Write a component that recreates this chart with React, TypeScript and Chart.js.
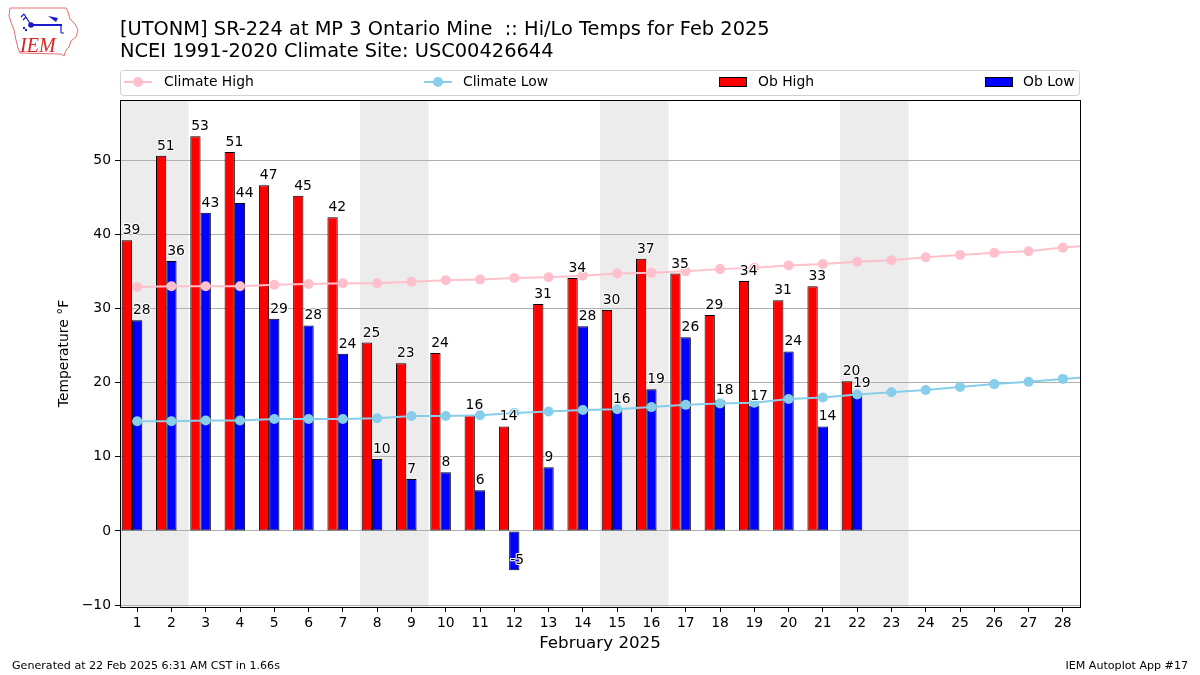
import React, { useEffect, useRef } from 'react';
import { Chart, registerables } from 'chart.js';

Chart.register(...registerables);

// ---- data ----
const days = [1, 2, 3, 4, 5, 6, 7, 8, 9, 10, 11, 12, 13, 14, 15, 16, 17, 18, 19, 20, 21, 22, 23, 24, 25, 26, 27, 28];
const obDays = [1, 2, 3, 4, 5, 6, 7, 8, 9, 10, 11, 12, 13, 14, 15, 16, 17, 18, 19, 20, 21, 22];
const obHigh = [39.2, 50.6, 53.2, 51.1, 46.6, 45.2, 42.3, 25.4, 22.6, 24.0, 15.6, 14.1, 30.6, 34.1, 29.8, 36.7, 34.7, 29.1, 33.7, 31.1, 33.0, 20.2];
const obLow = [28.4, 36.4, 42.9, 44.2, 28.6, 27.7, 23.9, 9.7, 7.0, 7.9, 5.5, -5.3, 8.6, 27.6, 16.4, 19.1, 26.1, 17.6, 16.9, 24.2, 14.1, 18.6];
const climDays = [1, 2, 3, 4, 5, 6, 7, 8, 9, 10, 11, 12, 13, 14, 15, 16, 17, 18, 19, 20, 21, 22, 23, 24, 25, 26, 27, 28, 29];
const climHigh = [32.9, 33.0, 33.0, 33.0, 33.2, 33.3, 33.4, 33.4, 33.6, 33.8, 33.9, 34.1, 34.2, 34.4, 34.7, 34.8, 35.0, 35.3, 35.5, 35.8, 36.0, 36.3, 36.5, 36.9, 37.2, 37.5, 37.7, 38.2, 38.6];
const climLow = [14.8, 14.8, 14.9, 14.9, 15.1, 15.1, 15.1, 15.2, 15.5, 15.5, 15.6, 15.9, 16.1, 16.3, 16.4, 16.7, 17.0, 17.2, 17.3, 17.8, 18.0, 18.4, 18.7, 19.0, 19.4, 19.8, 20.1, 20.5, 20.8];
const weekendStarts = [1, 8, 15, 22];
const yTicks = [-10, 0, 10, 20, 30, 40, 50];

const titleLine1 = '[UTONM] SR-224 at MP 3 Ontario Mine  :: Hi/Lo Temps for Feb 2025';
const titleLine2 = 'NCEI 1991-2020 Climate Site: USC00426644';
const xTitle = 'February 2025';
const yTitle = 'Temperature °F';
const footerLeft = 'Generated at 22 Feb 2025 6:31 AM CST in 1.66s';
const footerRight = 'IEM Autoplot App #17';
const legendLabels = ['Climate High', 'Climate Low', 'Ob High', 'Ob Low'];

const FONT = '"DejaVu Sans", sans-serif';
const PINK = '#ffc0cb';
const SKY = '#87ceeb';

function drawLogo(ctx: CanvasRenderingContext2D) {
  ctx.save();
  // Iowa outline
  ctx.strokeStyle = '#e07070';
  ctx.lineWidth = 1;
  ctx.beginPath();
  ctx.moveTo(10, 8);
  ctx.lineTo(66, 8);
  ctx.lineTo(68, 12);
  ctx.lineTo(70, 19);
  ctx.lineTo(75, 24);
  ctx.lineTo(78, 30);
  ctx.lineTo(76, 37);
  ctx.lineTo(71, 41);
  ctx.lineTo(69, 47);
  ctx.lineTo(66, 50);
  ctx.lineTo(64, 56);
  ctx.lineTo(61, 54);
  ctx.lineTo(20, 53);
  ctx.lineTo(18, 48);
  ctx.lineTo(16, 40);
  ctx.lineTo(14, 30);
  ctx.lineTo(11, 22);
  ctx.lineTo(9, 16);
  ctx.closePath();
  ctx.stroke();
  // station symbol
  ctx.strokeStyle = '#1a1acc';
  ctx.fillStyle = '#1a1acc';
  ctx.lineWidth = 2;
  ctx.beginPath();
  ctx.moveTo(31, 25);
  ctx.lineTo(62, 25);
  ctx.stroke();
  ctx.beginPath();
  ctx.arc(31, 25, 2.8, 0, Math.PI * 2);
  ctx.fill();
  ctx.lineWidth = 1.2;
  ctx.beginPath();
  ctx.moveTo(31, 25);
  ctx.lineTo(24, 14);
  ctx.moveTo(24, 14);
  ctx.lineTo(21, 17);
  ctx.moveTo(26, 17);
  ctx.lineTo(23, 20);
  ctx.moveTo(61, 25);
  ctx.lineTo(61, 33);
  ctx.moveTo(61, 33);
  ctx.lineTo(64, 33);
  ctx.stroke();
  ctx.beginPath();
  ctx.moveTo(48, 16);
  ctx.lineTo(58, 18);
  ctx.lineTo(56, 22);
  ctx.closePath();
  ctx.fill();
  ctx.fillRect(23, 27, 2, 2);
  ctx.fillRect(25, 29, 2, 2);
  // IEM text
  ctx.fillStyle = '#d22';
  ctx.font = 'italic 20px "Liberation Serif", serif';
  ctx.textBaseline = 'alphabetic';
  ctx.textAlign = 'left';
  ctx.fillText('IEM', 20, 52);
  ctx.restore();
}

const decorPlugin = {
  id: 'decor',
  beforeDraw(chart: any) {
    const { ctx, chartArea, scales } = chart;
    ctx.save();
    ctx.fillStyle = '#ffffff';
    ctx.fillRect(0, 0, chart.width, chart.height);
    ctx.fillStyle = '#ececec';
    const xs = scales.x;
    weekendStarts.forEach((d) => {
      const x0 = xs.getPixelForValue(d - 0.5);
      const x1 = xs.getPixelForValue(d + 1.5);
      const l = Math.max(x0, chartArea.left);
      const r = Math.min(x1, chartArea.right);
      ctx.fillRect(l, chartArea.top, r - l, chartArea.bottom - chartArea.top);
    });
    ctx.restore();
  },
  afterDatasetsDraw(chart: any) {
    const { ctx } = chart;
    ctx.save();
    ctx.font = `13.9px ${FONT}`;
    ctx.textAlign = 'left';
    ctx.textBaseline = 'alphabetic';
    ctx.lineJoin = 'round';
    [obHigh, obLow].forEach((vals, di) => {
      const meta = chart.getDatasetMeta(di);
      meta.data.forEach((el: any, i: number) => {
        const v = vals[i];
        if (v === null || v === undefined) return;
        const txt = String(Math.round(v));
        const x = el.x - el.width / 2 + 1;
        const y = el.y - 6;
        ctx.strokeStyle = '#ffffff';
        ctx.lineWidth = 2;
        ctx.strokeText(txt, x, y);
        ctx.fillStyle = '#000000';
        ctx.fillText(txt, x, y);
      });
    });
    ctx.restore();
  },
  afterDraw(chart: any) {
    const { ctx, chartArea } = chart;
    ctx.save();
    // frame
    ctx.strokeStyle = '#000';
    ctx.lineWidth = 1;
    ctx.strokeRect(Math.round(chartArea.left) + 0.5, Math.round(chartArea.top) + 0.5,
      Math.round(chartArea.right - chartArea.left), Math.round(chartArea.bottom - chartArea.top));

    // title
    ctx.fillStyle = '#000';
    ctx.textAlign = 'left';
    ctx.textBaseline = 'alphabetic';
    ctx.font = `19.4px ${FONT}`;
    ctx.fillText(titleLine1, 120, 35);
    ctx.fillText(titleLine2, 120, 57);

    // legend
    const ly = 82;
    ctx.beginPath();
    ctx.roundRect(120.5, 70.5, 959, 25, 3);
    ctx.fillStyle = 'rgba(255,255,255,0.9)';
    ctx.fill();
    ctx.strokeStyle = '#d0d0d0';
    ctx.lineWidth = 1;
    ctx.stroke();
    const lineItem = (x: number, color: string) => {
      ctx.strokeStyle = color;
      ctx.lineWidth = 2;
      ctx.beginPath();
      ctx.moveTo(x, ly);
      ctx.lineTo(x + 28, ly);
      ctx.stroke();
      ctx.fillStyle = color;
      ctx.beginPath();
      ctx.arc(x + 14, ly, 5, 0, Math.PI * 2);
      ctx.fill();
    };
    const boxItem = (x: number, color: string) => {
      ctx.fillStyle = color;
      ctx.fillRect(x, ly - 5, 28, 10);
      ctx.strokeStyle = '#000';
      ctx.lineWidth = 1;
      ctx.strokeRect(x + 0.5, ly - 4.5, 27, 9);
    };
    lineItem(124, PINK);
    lineItem(424, SKY);
    boxItem(719, '#ff0000');
    boxItem(985, '#0000ff');
    ctx.fillStyle = '#000';
    ctx.font = `13.9px ${FONT}`;
    ctx.textBaseline = 'middle';
    ctx.fillText(legendLabels[0], 164, ly);
    ctx.fillText(legendLabels[1], 463, ly);
    ctx.fillText(legendLabels[2], 758, ly);
    ctx.fillText(legendLabels[3], 1023, ly);

    // axis titles
    ctx.textAlign = 'center';
    ctx.font = `16.7px ${FONT}`;
    ctx.fillText(xTitle, (chartArea.left + chartArea.right) / 2, 644);
    ctx.save();
    ctx.translate(64, (chartArea.top + chartArea.bottom) / 2);
    ctx.rotate(-Math.PI / 2);
    ctx.font = `13.9px ${FONT}`;
    ctx.fillText(yTitle, 0, 0);
    ctx.restore();

    // footer
    ctx.font = `11.1px ${FONT}`;
    ctx.textAlign = 'left';
    ctx.fillText(footerLeft, 12, 666);
    ctx.textAlign = 'right';
    ctx.fillText(footerRight, 1188, 666);

    drawLogo(ctx);
    ctx.restore();
  },
};

export default function App() {
  const ref = useRef<HTMLCanvasElement>(null);
  useEffect(() => {
    if (!ref.current) return;
    Chart.defaults.font.family = FONT;
    const chart = new Chart(ref.current, {
      type: 'bar',
      data: {
        datasets: [
          {
            label: 'Ob High',
            data: obDays.map((d, i) => ({ x: d, y: obHigh[i] })),
            backgroundColor: '#ff0000',
            borderColor: '#000000',
            borderWidth: 1,
            borderSkipped: false,
            categoryPercentage: 0.9,
            barPercentage: 1.0,
            order: 2,
          } as any,
          {
            label: 'Ob Low',
            data: obDays.map((d, i) => ({ x: d, y: obLow[i] })),
            backgroundColor: '#0000ff',
            borderColor: '#000000',
            borderWidth: 1,
            borderSkipped: false,
            categoryPercentage: 0.9,
            barPercentage: 1.0,
            order: 2,
          } as any,
          {
            label: 'spacer',
            data: [],
            categoryPercentage: 0.9,
            barPercentage: 1.0,
            order: 2,
          } as any,
          {
            type: 'line',
            label: 'Climate High',
            data: climDays.map((d, i) => ({ x: d, y: climHigh[i] })),
            borderColor: PINK,
            backgroundColor: PINK,
            borderWidth: 2,
            pointRadius: 5,
            pointHoverRadius: 5,
            pointBorderWidth: 0,
            clip: 0,
            order: 1,
          } as any,
          {
            type: 'line',
            label: 'Climate Low',
            data: climDays.map((d, i) => ({ x: d, y: climLow[i] })),
            borderColor: SKY,
            backgroundColor: SKY,
            borderWidth: 2,
            pointRadius: 5,
            pointHoverRadius: 5,
            pointBorderWidth: 0,
            clip: 0,
            order: 1,
          } as any,
        ],
      },
      options: {
        responsive: false,
        animation: false,
        devicePixelRatio: 1,
        layout: { padding: { top: 100, right: 120, left: 0, bottom: 0 } },
        plugins: {
          legend: { display: false },
          title: { display: false },
          tooltip: { enabled: false },
        },
        events: [],
        scales: {
          x: {
            type: 'linear',
            min: 0.5,
            max: 28.5,
            offset: false,
            afterBuildTicks: (s: any) => {
              s.ticks = days.map((d) => ({ value: d }));
            },
            afterFit: (s: any) => {
              s.height = 68;
            },
            grid: {
              display: true,
              drawOnChartArea: false,
              drawTicks: true,
              tickLength: 5,
              tickColor: '#000',
              offset: false,
            },
            border: { display: false },
            ticks: {
              color: '#000',
              font: { size: 13.9, family: FONT },
              padding: 3,
              maxRotation: 0,
              autoSkip: false,
              callback: (v: any) => String(v),
            },
          },
          y: {
            type: 'linear',
            min: -10.25,
            max: 58.1,
            afterBuildTicks: (s: any) => {
              s.ticks = yTicks.map((v) => ({ value: v }));
            },
            afterFit: (s: any) => {
              s.width = 120;
            },
            grid: {
              display: true,
              color: '#b0b0b0',
              lineWidth: 1,
              drawTicks: true,
              tickLength: 5,
              tickColor: '#000',
            },
            border: { display: false },
            ticks: {
              color: '#000',
              font: { size: 13.9, family: FONT },
              padding: 4,
              callback: (v: any) => (v < 0 ? '\u2212' + Math.abs(v) : String(v)),
            },
          },
        },
      } as any,
      plugins: [decorPlugin],
    });
    return () => chart.destroy();
  }, []);
  return (
    <div style={{ position: 'fixed', left: 0, top: 0, width: 1200, height: 675, background: '#fff' }}>
      <canvas ref={ref} width={1200} height={675} style={{ width: 1200, height: 675, display: 'block' }} />
    </div>
  );
}
